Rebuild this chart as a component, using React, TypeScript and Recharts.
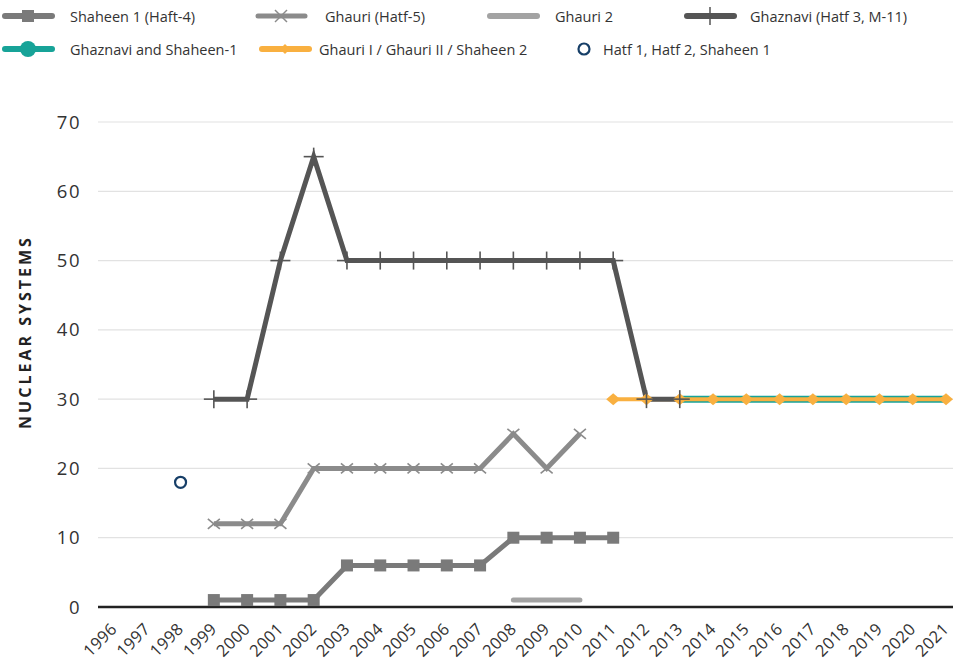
import React from "react";
import { LineChart, Line, XAxis, YAxis, CartesianGrid, Label } from "recharts";

const years = [
  "1996", "1997", "1998", "1999", "2000", "2001", "2002", "2003", "2004",
  "2005", "2006", "2007", "2008", "2009", "2010", "2011", "2012", "2013",
  "2014", "2015", "2016", "2017", "2018", "2019", "2020", "2021",
];
const _ = null;
const shaheen1 = [_, _, _, 1, 1, 1, 1, 6, 6, 6, 6, 6, 10, 10, 10, 10, _, _, _, _, _, _, _, _, _, _];
const ghauri = [_, _, _, 12, 12, 12, 20, 20, 20, 20, 20, 20, 25, 20, 25, _, _, _, _, _, _, _, _, _, _, _];
const ghauri2 = [_, _, _, _, _, _, _, _, _, _, _, _, 1, 1, 1, _, _, _, _, _, _, _, _, _, _, _];
const ghaznavi = [_, _, _, 30, 30, 50, 65, 50, 50, 50, 50, 50, 50, 50, 50, 50, 30, 30, _, _, _, _, _, _, _, _];
const ghaznaviShaheen = [_, _, _, _, _, _, _, _, _, _, _, _, _, _, _, _, _, 30, 30, 30, 30, 30, 30, 30, 30, 30];
const ghauriShaheen2 = [_, _, _, _, _, _, _, _, _, _, _, _, _, _, _, 30, 30, 30, 30, 30, 30, 30, 30, 30, 30, 30];
const hatf = [_, _, 18, _, _, _, _, _, _, _, _, _, _, _, _, _, _, _, _, _, _, _, _, _, _, _];
const yTicks = [0, 10, 20, 30, 40, 50, 60, 70];

const data = years.map((y, i) => ({
  year: y,
  shaheen1: shaheen1[i],
  ghauri: ghauri[i],
  ghauri2: ghauri2[i],
  ghaznavi: ghaznavi[i],
  ghaznaviShaheen: ghaznaviShaheen[i],
  ghauriShaheen2: ghauriShaheen2[i],
  hatf: hatf[i],
}));

const FONT = "'Open Sans', sans-serif";
const C_SHAHEEN = "#7a7a7a";
const C_GHAURI = "#8b8b8b";
const C_GHAURI2 = "#a3a3a3";
const C_GHAZNAVI = "#555555";
const C_TEAL = "#17a398";
const C_ORANGE = "#f9b040";
const C_NAVY = "#173f68";

const ok = (p: any) => p.cx != null && p.cy != null && p.value != null;

const squareDot = (p: any) =>
  ok(p) ? <rect key={p.index} x={p.cx - 6} y={p.cy - 6} width={12} height={12} fill={C_SHAHEEN} /> : <g key={p.index} />;

const crossDot = (p: any) =>
  ok(p) ? (
    <g key={p.index} stroke={C_GHAURI} strokeWidth={1.6}>
      <line x1={p.cx - 6} y1={p.cy - 5} x2={p.cx + 6} y2={p.cy + 5} />
      <line x1={p.cx - 6} y1={p.cy + 5} x2={p.cx + 6} y2={p.cy - 5} />
    </g>
  ) : <g key={p.index} />;

const plusDot = (p: any) =>
  ok(p) ? (
    <g key={p.index} stroke={C_GHAZNAVI} strokeWidth={1.6}>
      <line x1={p.cx - 10} y1={p.cy} x2={p.cx + 10} y2={p.cy} />
      <line x1={p.cx} y1={p.cy - 9} x2={p.cx} y2={p.cy + 9} />
    </g>
  ) : <g key={p.index} />;

const diamondDot = (p: any) =>
  ok(p) ? (
    <path key={p.index} d={`M${p.cx - 7},${p.cy} L${p.cx},${p.cy - 6} L${p.cx + 7},${p.cy} L${p.cx},${p.cy + 6} Z`} fill={C_ORANGE} />
  ) : <g key={p.index} />;

const ringDot = (p: any) =>
  ok(p) ? <circle key={p.index} cx={p.cx} cy={p.cy} r={5.5} fill="#fff" stroke={C_NAVY} strokeWidth={2.2} /> : <g key={p.index} />;

const XTick = (props: any) => {
  const { x, y, payload } = props;
  const tx = x + 4;
  const ty = y + 15;
  return (
    <text
      x={tx}
      y={ty}
      transform={`rotate(-45 ${tx} ${ty})`}
      textAnchor="end"
      fontSize={16.5}
      letterSpacing={0.4}
      fill="#333"
      fontFamily={FONT}
    >
      {payload.value}
    </text>
  );
};

function LegendIcon({ kind }: { kind: string }) {
  const line = (c: string, w = 6) => <line x1={5} y1={10} x2={52} y2={10} stroke={c} strokeWidth={w} strokeLinecap="round" />;
  return (
    <svg width={58} height={20} style={{ display: "block" }}>
      {kind === "shaheen1" && (<>{line(C_SHAHEEN)}<rect x={22} y={4} width={12} height={12} fill={C_SHAHEEN} /></>)}
      {kind === "ghauri" && (<>{line(C_GHAURI, 5)}<g stroke={C_GHAURI} strokeWidth={1.5}><line x1={22} y1={4} x2={34} y2={16} /><line x1={22} y1={16} x2={34} y2={4} /></g></>)}
      {kind === "ghauri2" && line(C_GHAURI2)}
      {kind === "ghaznavi" && (<>{line(C_GHAZNAVI)}<line x1={28} y1={1} x2={28} y2={19} stroke={C_GHAZNAVI} strokeWidth={1.5} /></>)}
      {kind === "teal" && (<>{line(C_TEAL)}<circle cx={28} cy={10} r={8} fill={C_TEAL} /></>)}
      {kind === "orange" && (<>{line(C_ORANGE)}<path d="M23,10 L28,5 L33,10 L28,15 Z" fill={C_ORANGE} /></>)}
    </svg>
  );
}

const legendItems = [
  { kind: "shaheen1", label: "Shaheen 1 (Haft-4)", left: 0, top: 6, gap: 12 },
  { kind: "ghauri", label: "Ghauri (Hatf-5)", left: 253, top: 6, gap: 14 },
  { kind: "ghauri2", label: "Ghauri 2", left: 485, top: 6, gap: 12 },
  { kind: "ghaznavi", label: "Ghaznavi (Hatf 3, M-11)", left: 682, top: 6, gap: 10 },
  { kind: "teal", label: "Ghaznavi and Shaheen-1", left: 0, top: 39, gap: 12 },
  { kind: "orange", label: "Ghauri I / Ghauri II / Shaheen 2", left: 257, top: 39, gap: 4 },
];

export default function App() {
  return (
    <div style={{ position: "absolute", left: 0, top: 0, width: 953, height: 665, background: "#fff", fontFamily: FONT }}>
      {legendItems.map((it) => (
        <div key={it.kind} style={{ position: "absolute", left: it.left, top: it.top, display: "flex", alignItems: "center", height: 20 }}>
          <LegendIcon kind={it.kind} />
          <span style={{ marginLeft: it.gap, fontSize: 14.5, color: "#333", whiteSpace: "nowrap" }}>{it.label}</span>
        </div>
      ))}
      <div style={{ position: "absolute", left: 577, top: 39, display: "flex", alignItems: "center", height: 20 }}>
        <svg width={16} height={20} style={{ display: "block" }}>
          <circle cx={7} cy={10} r={5.5} fill="#fff" stroke={C_NAVY} strokeWidth={2.2} />
        </svg>
        <span style={{ marginLeft: 10, fontSize: 14.5, color: "#333", whiteSpace: "nowrap" }}>Hatf 1, Hatf 2, Shaheen 1</span>
      </div>
      <div style={{ position: "absolute", left: 0, top: 0 }}>
        <LineChart width={953} height={665} data={data} margin={{ top: 122, right: 0, bottom: 0, left: 0 }}>
          <CartesianGrid vertical={false} stroke="#e2e2e2" strokeWidth={1.2} />
          <XAxis
            dataKey="year"
            interval={0}
            padding={{ left: 16, right: 7 }}
            height={58}
            tickLine={false}
            axisLine={{ stroke: "#222", strokeWidth: 2.5 }}
            tick={<XTick />}
          />
          <YAxis
            domain={[0, 70]}
            ticks={yTicks}
            width={98}
            axisLine={false}
            tickLine={false}
            tickSize={6}
            tickMargin={11}
            tick={{ fontSize: 18.5, fill: "#333", fontFamily: FONT, letterSpacing: 1.5 }}
          >
            <Label
              content={(p: any) => (
                <text
                  x={p.viewBox.x + 31}
                  y={332}
                  transform={`rotate(-90 ${p.viewBox.x + 31} 332)`}
                  textAnchor="middle"
                  fontSize={16}
                  fontWeight="bold"
                  letterSpacing={3}
                  fill="#222"
                  fontFamily={FONT}
                >
                  NUCLEAR SYSTEMS
                </text>
              )}
            />
          </YAxis>
          <Line dataKey="hatf" stroke="none" dot={ringDot} isAnimationActive={false} />
          <Line dataKey="ghauri2" stroke={C_GHAURI2} strokeWidth={5} strokeLinecap="round" dot={false} isAnimationActive={false} />
          <Line dataKey="shaheen1" stroke={C_SHAHEEN} strokeWidth={5} dot={squareDot} isAnimationActive={false} />
          <Line dataKey="ghauri" stroke={C_GHAURI} strokeWidth={5} dot={crossDot} isAnimationActive={false} />
          <Line dataKey="ghaznaviShaheen" stroke={C_TEAL} strokeWidth={7} dot={false} isAnimationActive={false} />
          <Line dataKey="ghauriShaheen2" stroke={C_ORANGE} strokeWidth={4} dot={diamondDot} isAnimationActive={false} />
          <Line dataKey="ghaznavi" stroke={C_GHAZNAVI} strokeWidth={5} dot={plusDot} isAnimationActive={false} />
        </LineChart>
      </div>
    </div>
  );
}
